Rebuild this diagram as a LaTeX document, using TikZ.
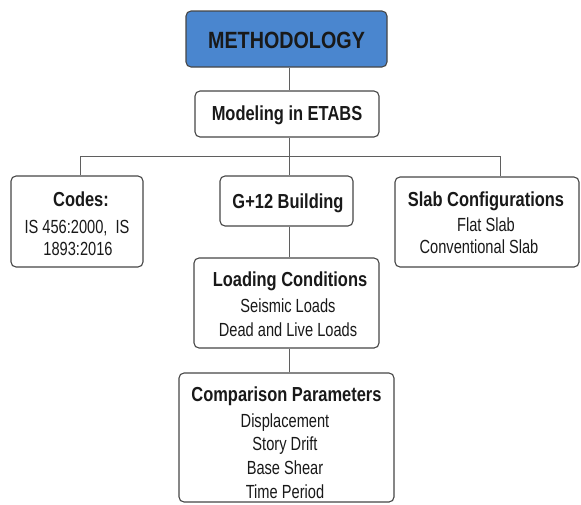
\documentclass[tikz,border=0pt]{standalone}
\usepackage{fontspec}
\setmainfont{Liberation Sans}[FakeStretch=0.84]
\newfontfamily\headfont{Liberation Sans}[FakeStretch=0.81]
\newfontfamily\bodyfont{Liberation Sans}[FakeStretch=0.77]
\begin{document}
\begin{tikzpicture}[x=1pt,y=-1pt,
  box/.style={draw=boxline,line width=1.1pt,rounded corners=5pt,fill=white,inner sep=0pt},
  link/.style={draw=linkgray,line width=1pt},
  head/.style={anchor=base,inner sep=0pt,text=txt,font=\headfont\fontsize{20.3}{24}\selectfont\bfseries},
  body/.style={anchor=base,inner sep=0pt,text=txt,font=\bodyfont\fontsize{19}{23}\selectfont}]
\definecolor{boxline}{RGB}{70,70,70}
\definecolor{linkgray}{RGB}{95,95,95}
\definecolor{txt}{RGB}{25,25,25}
\definecolor{titleblue}{RGB}{74,134,207}
\useasboundingbox (0,0) rectangle (581,504);

% boxes
\node[box,fill=titleblue,minimum width=201pt,minimum height=56pt] (title) at (286.5,39) {};
\node[box,minimum width=184pt,minimum height=46pt] (model) at (287,114) {};
\node[box,minimum width=132pt,minimum height=91pt] (codes) at (77,221.5) {};
\node[box,minimum width=133pt,minimum height=50pt] (gbuild) at (286.5,201) {};
\node[box,minimum width=184pt,minimum height=90pt] (slab) at (487,222) {};
\node[box,minimum width=185pt,minimum height=90pt] (load) at (286.5,303) {};
\node[box,minimum width=215pt,minimum height=129pt] (comp) at (286.5,437.5) {};

% connector positions
\coordinate (trunk) at (289,0);
\coordinate (busL) at (80,156);
\coordinate (busR) at (500,156);

\draw[link] (title.south -| trunk) -- (model.north -| trunk);
\draw[link] (model.south -| trunk) -- (gbuild.north -| trunk);
\draw[link] (busL) -- (busR);
\draw[link] (busL) -- (busL |- codes.north);
\draw[link] (busR) -- (busR |- slab.north);
\draw[link] (gbuild.south -| trunk) -- (load.north -| trunk);
\draw[link] (load.south -| trunk) -- (comp.north -| trunk);

% texts
\node[head,font=\fontsize{23.5}{28}\selectfont\bfseries] (ttitle) at (286.5,48.5) {METHODOLOGY};
\node[head] (tmodel) at (287,120) {Modeling in ETABS};

\node[head] (tcodes) at (81,206.5) {Codes:};
\node[body] (tcodes1) at (77,233) {IS 456:2000, \ IS};
\node[body] (tcodes2) at (78,255.5) {1893:2016};

\node[head] (tgb) at (288,208) {G+12 Building};

\node[head] (tslab) at (486,206) {Slab Configurations};
\node[body] (tslab1) at (486,231) {Flat Slab};
\node[body] (tslab2) at (479,253.5) {Conventional Slab};

\node[head] (tload) at (290,286.5) {Loading Conditions};
\node[body] (tload1) at (288,312.5) {Seismic Loads};
\node[body] (tload2) at (288,336.5) {Dead and Live Loads};

\node[head] (tcomp) at (286.5,401.5) {Comparison Parameters};
\node[body] (tcomp1) at (285,427) {Displacement};
\node[body] (tcomp2) at (285,450.5) {Story Drift};
\node[body] (tcomp3) at (285,474.5) {Base Shear};
\node[body] (tcomp4) at (285,498) {Time Period};
\end{tikzpicture}
\end{document}
